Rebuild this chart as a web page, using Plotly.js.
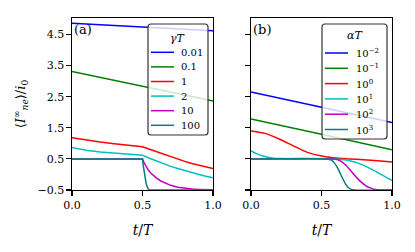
<!DOCTYPE html>
<html>
<head>
<meta charset="utf-8">
<script src="https://cdn.plot.ly/plotly-3.0.1.min.js"></script>
<style>html,body{margin:0;padding:0;background:#fff;}#plot{width:415px;height:252px;}</style>
</head>
<body>
<div id="plot"></div>
<script>
// ---------- data: panel (a), gamma*T ----------
const gammaLabels = ['0.01', '0.1', '1', '2', '10', '100'];
const a_t_001 = [0, 0.5, 1];
const a_y_001 = [4.86, 4.74, 4.62];
const a_t_01 = [0, 0.5, 1];
const a_y_01 = [3.31, 2.83, 2.36];
const a_t_1 = [0, 0.1, 0.2, 0.3, 0.4, 0.5, 0.55, 0.6, 0.65, 0.7, 0.75, 0.8, 0.85, 0.9, 0.95, 1.0];
const a_y_1 = [1.18, 1.10, 1.04, 0.99, 0.94, 0.89, 0.81, 0.73, 0.64, 0.56, 0.49, 0.42, 0.35, 0.29, 0.24, 0.19];
const a_t_2 = [0, 0.1, 0.2, 0.3, 0.4, 0.5, 0.55, 0.6, 0.65, 0.7, 0.75, 0.8, 0.85, 0.9, 0.95, 1.0];
const a_y_2 = [0.87, 0.78, 0.72, 0.68, 0.65, 0.62, 0.52, 0.43, 0.34, 0.26, 0.19, 0.12, 0.06, 0.0, -0.06, -0.11];
const a_t_10 = [0, 0.5, 0.51, 0.52, 0.53, 0.54, 0.56, 0.58, 0.6, 0.63, 0.66, 0.7, 0.75, 0.8, 0.85, 0.9, 1.0];
const a_y_10 = [0.5, 0.5, 0.39, 0.30, 0.22, 0.15, 0.04, -0.05, -0.12, -0.21, -0.28, -0.35, -0.41, -0.45, -0.47, -0.48, -0.49];
const a_t_100 = [0, 0.5, 0.505, 0.51, 0.515, 0.52, 0.525, 0.53, 0.54, 0.55, 1.0];
const a_y_100 = [0.5, 0.5, 0.3, 0.12, -0.03, -0.16, -0.27, -0.36, -0.46, -0.5, -0.5];

// ---------- data: panel (b), alpha*T ----------
const alphaLabels = ['10<sup>−2</sup>', '10<sup>−1</sup>', '10<sup>0</sup>', '10<sup>1</sup>', '10<sup>2</sup>', '10<sup>3</sup>'];
const b_t_m2 = [0, 0.5, 1];
const b_y_m2 = [2.65, 2.16, 1.67];
const b_t_m1 = [0, 0.5, 1];
const b_y_m1 = [1.78, 1.29, 0.79];
const b_t_0 = [0, 0.1, 0.2, 0.3, 0.4, 0.5, 0.6, 0.7, 0.8, 0.9, 1.0];
const b_y_0 = [1.40, 1.32, 1.14, 0.92, 0.71, 0.59, 0.53, 0.50, 0.47, 0.44, 0.40];
const b_t_1 = [0, 0.04, 0.08, 0.12, 0.16, 0.2, 0.3, 0.6, 0.65, 0.7, 0.75, 0.8, 0.85, 0.9, 0.95, 1.0];
const b_y_1 = [0.76, 0.67, 0.60, 0.55, 0.52, 0.51, 0.5, 0.5, 0.48, 0.44, 0.38, 0.29, 0.18, 0.06, -0.07, -0.19];
const b_t_2 = [0, 0.58, 0.61, 0.64, 0.67, 0.7, 0.73, 0.76, 0.79, 0.82, 0.85, 0.88, 0.92, 1.0];
const b_y_2 = [0.5, 0.5, 0.48, 0.42, 0.31, 0.16, 0.0, -0.15, -0.28, -0.38, -0.44, -0.48, -0.5, -0.5];
const b_t_3 = [0, 0.54, 0.57, 0.59, 0.61, 0.63, 0.65, 0.67, 0.69, 0.71, 0.73, 1.0];
const b_y_3 = [0.5, 0.5, 0.46, 0.38, 0.24, 0.06, -0.13, -0.30, -0.42, -0.48, -0.5, -0.5];

const yTickVals = [-0.5, 0.5, 1.5, 2.5, 3.5, 4.5];
const yTickText = ['−0.5', '0.5', '1.5', '2.5', '3.5', '4.5'];
const xTickVals = [0, 0.5, 1];
const xTickText = ['0.0', '0.5', '1.0'];

// ---------- styles ----------
const colors = ['#0000ff', '#008000', '#ff0000', '#00bfbf', '#bf00bf', '#008080'];
const FONT = 'DejaVu Serif';
const W = 415, H = 252;
const px = x => x / W;
const py = y => 1 - y / H;

const seriesA = [[a_t_001, a_y_001], [a_t_01, a_y_01], [a_t_1, a_y_1], [a_t_2, a_y_2], [a_t_10, a_y_10], [a_t_100, a_y_100]];
const seriesB = [[b_t_m2, b_y_m2], [b_t_m1, b_y_m1], [b_t_0, b_y_0], [b_t_1, b_y_1], [b_t_2, b_y_2], [b_t_3, b_y_3]];

const traces = [];
seriesA.forEach((s, i) => traces.push({
  x: s[0], y: s[1], type: 'scatter', mode: 'lines', name: gammaLabels[i],
  xaxis: 'x', yaxis: 'y', showlegend: false,
  line: {color: colors[i], width: 1.5, shape: 'linear'}
}));
seriesB.forEach((s, i) => traces.push({
  x: s[0], y: s[1], type: 'scatter', mode: 'lines', name: alphaLabels[i],
  xaxis: 'x2', yaxis: 'y2', showlegend: false,
  line: {color: colors[i], width: 1.5, shape: 'spline', smoothing: 0.6}
}));

const shapes = [];
const annotations = [];

function roundRect(x0, y0, x1, y1, r) {
  const P = (x, y) => px(x) + ',' + py(y);
  return 'M' + P(x0 + r, y0) + ' L' + P(x1 - r, y0) + ' Q' + P(x1, y0) + ' ' + P(x1, y0 + r) +
    ' L' + P(x1, y1 - r) + ' Q' + P(x1, y1) + ' ' + P(x1 - r, y1) +
    ' L' + P(x0 + r, y1) + ' Q' + P(x0, y1) + ' ' + P(x0, y1 - r) +
    ' L' + P(x0, y0 + r) + ' Q' + P(x0, y0) + ' ' + P(x0 + r, y0) + ' Z';
}

function addLegend(title, labels, box, lineX, textX, titleY, rowY, dy) {
  shapes.push({type: 'path', xref: 'paper', yref: 'paper', path: roundRect(box[0], box[1], box[2], box[3], 3),
    fillcolor: 'rgba(255,255,255,0.8)', line: {color: '#333', width: 1.2}, layer: 'above'});
  annotations.push({xref: 'paper', yref: 'paper', x: px((box[0] + box[2]) / 2), y: py(titleY),
    xanchor: 'center', yanchor: 'middle', showarrow: false, text: title,
    font: {family: FONT, size: 11, color: '#000'}});
  labels.forEach((lab, i) => {
    const yy = rowY + i * dy;
    shapes.push({type: 'line', xref: 'paper', yref: 'paper', x0: px(lineX[0]), x1: px(lineX[1]),
      y0: py(yy), y1: py(yy), line: {color: colors[i], width: 1.5}, layer: 'above'});
    annotations.push({xref: 'paper', yref: 'paper', x: px(textX), y: py(yy), xanchor: 'left', yanchor: 'middle',
      showarrow: false, text: lab, font: {family: FONT, size: 10, color: '#000'}});
  });
}

addLegend('<i>γT</i>', gammaLabels, [148, 24, 208, 135], [151, 174], 179, 38, 52.3, 14.6);
addLegend('<i>αT</i>', alphaLabels, [322, 24, 387, 139], [325, 348], 354, 36, 53, 15.3);

annotations.push({xref: 'paper', yref: 'paper', x: px(72), y: py(20), xanchor: 'left', yanchor: 'top',
  showarrow: false, text: '(a)', font: {family: FONT, size: 13, color: '#000'}});
annotations.push({xref: 'paper', yref: 'paper', x: px(251), y: py(20), xanchor: 'left', yanchor: 'top',
  showarrow: false, text: '(b)', font: {family: FONT, size: 13, color: '#000'}});

const axBase = {
  showgrid: false, zeroline: false, showline: true, linecolor: '#000', linewidth: 1.1,
  mirror: true, ticks: 'outside', ticklen: 4.5, tickwidth: 1.1, tickcolor: '#000',
  tickfont: {family: FONT, size: 11, color: '#000'}, automargin: false, fixedrange: true
};
const yRange = [-0.5, 5.03];
const yDom = [62 / H, 234 / H];
const xTitle = {text: '<i>t</i>/<i>T</i>', font: {family: FONT, size: 14, color: '#000'}, standoff: 14};

const layout = {
  width: W, height: H,
  margin: {l: 0, r: 0, t: 0, b: 0, pad: 0},
  paper_bgcolor: '#fff', plot_bgcolor: '#fff',
  showlegend: false,
  xaxis: Object.assign({}, axBase, {domain: [px(72), px(213)], range: [0, 1], anchor: 'y',
    tickvals: xTickVals, ticktext: xTickText, title: xTitle}),
  yaxis: Object.assign({}, axBase, {domain: yDom, range: yRange, anchor: 'x',
    tickvals: yTickVals, ticktext: yTickText,
    title: {text: '⟨<i>I</i><sup>∞</sup><sub><i>ne</i></sub>⟩/<i>i</i><sub>0</sub>', font: {family: FONT, size: 13, color: '#000'}, standoff: 8}}),
  xaxis2: Object.assign({}, axBase, {domain: [px(251), px(392)], range: [0, 1], anchor: 'y2',
    tickvals: xTickVals, ticktext: xTickText, title: xTitle}),
  yaxis2: Object.assign({}, axBase, {domain: yDom, range: yRange, anchor: 'x2',
    tickvals: yTickVals, ticktext: yTickText, showticklabels: false}),
  shapes: shapes,
  annotations: annotations
};

Plotly.newPlot('plot', traces, layout, {staticPlot: true, displayModeBar: false});
</script>
</body>
</html>
